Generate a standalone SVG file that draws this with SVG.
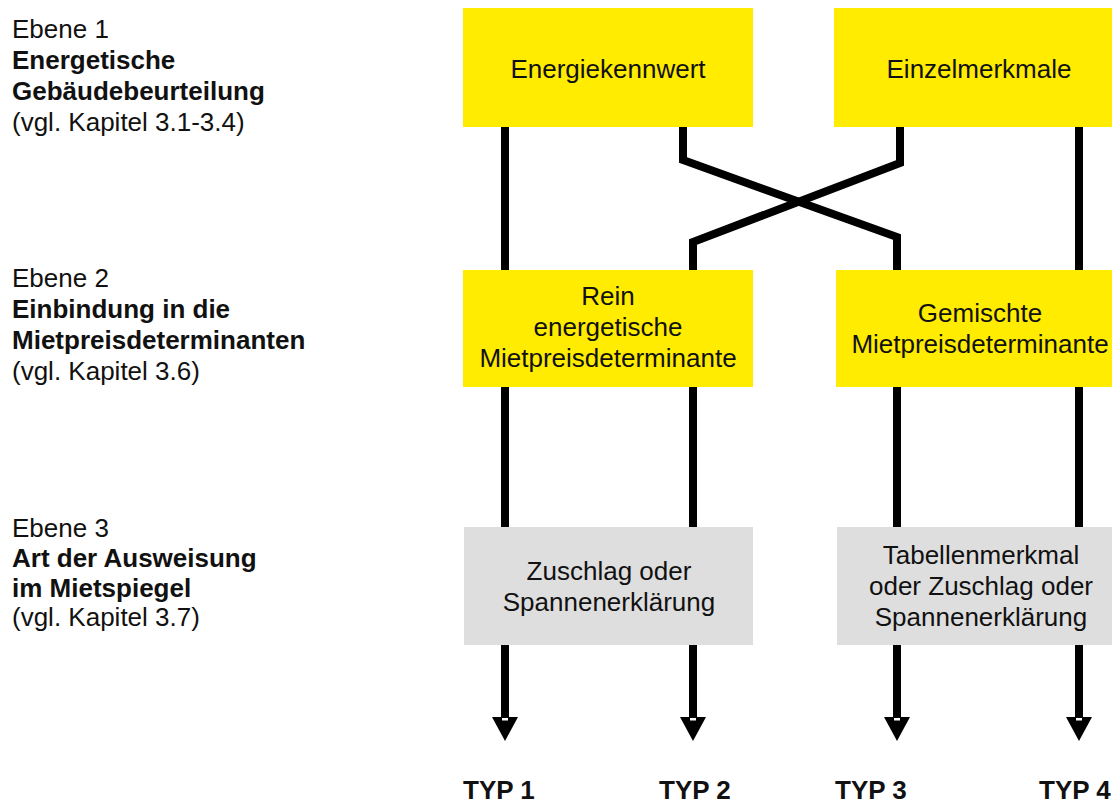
<svg xmlns="http://www.w3.org/2000/svg" width="1112" height="804" viewBox="0 0 1112 804">
<style>
text{font-family:"Liberation Sans",Arial,sans-serif;font-size:26px;fill:#111}
.b{font-weight:bold}
.c{text-anchor:middle}
.y{fill:#FFEC00}
.g{fill:#DEDEDE}
.ln{fill:none;stroke:#000;stroke-width:8;marker-end:url(#ah)}
</style>
<defs>
<marker id="ah" markerUnits="userSpaceOnUse" viewBox="0 0 24 26" refX="0" refY="13" markerWidth="24" markerHeight="26" orient="auto">
<path d="M0,0 L24,13 L0,26 Z" fill="#000"/>
<rect x="1" y="10" width="2.5" height="6" fill="#fff"/>
</marker>
</defs>
<rect width="1112" height="804" fill="#fff"/>
<g id="labels">
<text x="12" y="38">Ebene 1</text>
<text x="12" y="69" class="b">Energetische</text>
<text x="12" y="100" class="b">Gebäudebeurteilung</text>
<text x="12" y="131">(vgl. Kapitel 3.1-3.4)</text>
<text x="12" y="287">Ebene 2</text>
<text x="12" y="318" class="b">Einbindung in die</text>
<text x="12" y="349" class="b">Mietpreisdeterminanten</text>
<text x="12" y="380">(vgl. Kapitel 3.6)</text>
<text x="12" y="537">Ebene 3</text>
<text x="12" y="567" class="b">Art der Ausweisung</text>
<text x="12" y="597" class="b">im Mietspiegel</text>
<text x="12" y="626">(vgl. Kapitel 3.7)</text>
</g>
<g id="connectors">
<path class="ln" d="M505,127 V717"/>
<path class="ln" d="M683,127 V160 L897,237 V717"/>
<path class="ln" d="M900,127 V163 L693,242 V717"/>
<path class="ln" d="M1079,127 V717"/>
</g>
<g id="energiekennwert">
<rect class="y" x="463" y="8" width="290" height="119"/>
<text class="c" x="608" y="78">Energiekennwert</text>
</g>
<g id="einzelmerkmale">
<rect class="y" x="834" y="8" width="290" height="119"/>
<text class="c" x="979" y="78">Einzelmerkmale</text>
</g>
<g id="rein">
<rect class="y" x="463" y="270" width="290" height="117"/>
<text class="c" x="608" y="305">Rein</text>
<text class="c" x="608" y="336">energetische</text>
<text class="c" x="608" y="367">Mietpreisdeterminante</text>
</g>
<g id="gemischte">
<rect class="y" x="836" y="270" width="288" height="117"/>
<text class="c" x="980" y="322">Gemischte</text>
<text class="c" x="980" y="353">Mietpreisdeterminante</text>
</g>
<g id="zuschlag">
<rect class="g" x="464" y="527" width="289" height="118"/>
<text class="c" x="609" y="580">Zuschlag oder</text>
<text class="c" x="609" y="611">Spannenerklärung</text>
</g>
<g id="tabellenmerkmal">
<rect class="g" x="837" y="527" width="287" height="118"/>
<text class="c" x="981" y="564">Tabellenmerkmal</text>
<text class="c" x="981" y="595">oder Zuschlag oder</text>
<text class="c" x="981" y="626">Spannenerklärung</text>
</g>
<g id="typ1"><text class="b" x="463" y="799">TYP 1</text></g>
<g id="typ2"><text class="b" x="659" y="799">TYP 2</text></g>
<g id="typ3"><text class="b" x="835" y="799">TYP 3</text></g>
<g id="typ4"><text class="b" x="1039" y="799">TYP 4</text></g>
</svg>
